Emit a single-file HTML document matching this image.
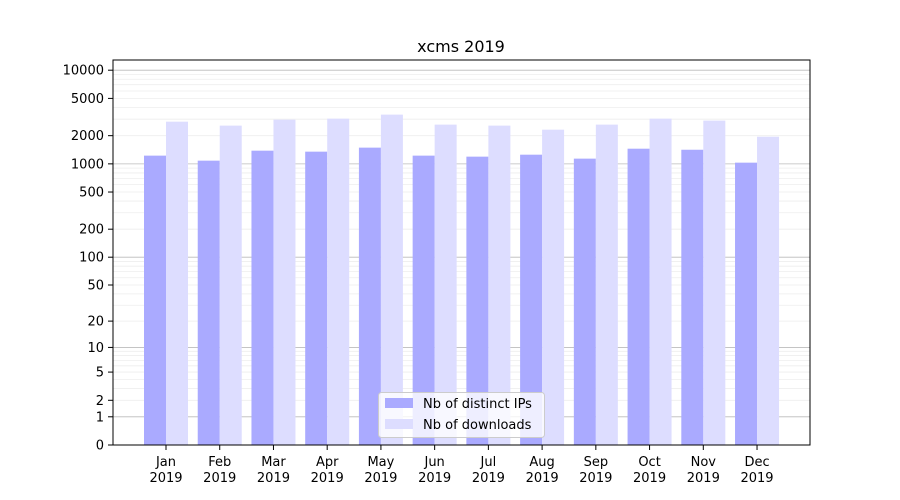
<!DOCTYPE html>
<html><head><meta charset="utf-8"><style>body{margin:0;background:#fff}svg{display:block}</style></head>
<body>
<svg width="900" height="500" xmlns="http://www.w3.org/2000/svg" font-family="DejaVu Sans, Liberation Sans, sans-serif">
<rect width="900" height="500" fill="#fff"/>
<g id="grid"></g>
<g id="bars"></g>
<rect x="113" y="60" width="697" height="385" fill="none" stroke="#000" stroke-width="1"/>
<g id="ticks" font-size="13" fill="#000"></g>
<text x="461" y="52" font-size="16" text-anchor="middle">xcms 2019</text>
<g>
<rect x="378.5" y="392.5" width="166" height="45" rx="3" fill="#fff" fill-opacity="0.8" stroke="#ccc"/>
<rect x="385" y="398" width="28" height="10" fill="#aaaaff"/>
<text x="423" y="408" font-size="13">Nb of distinct IPs</text>
<rect x="385" y="419" width="28" height="10" fill="#ddddff"/>
<text x="423" y="429" font-size="13">Nb of downloads</text>
</g>
<script>
const ns="http://www.w3.org/2000/svg";
const K=93.7,B=445;
const Y=v=>B-K*Math.log10(1+v);
function el(p,t,a,txt){const e=document.createElementNS(ns,t);for(const k in a)e.setAttribute(k,a[k]);if(txt!==undefined)e.textContent=txt;document.getElementById(p).appendChild(e);}
for(let d=1;d<=10000;d*=10){for(let m=1;m<10;m++){const v=d*m;if(v>12900)break;const y=Y(v);el('grid','line',{x1:113,x2:810,y1:y,y2:y,stroke:m==1?'#bbb':'#eee','stroke-width':0.8});}}
const lv=[0,1,2,5,10,20,50,100,200,500,1000,2000,5000,10000];
lv.forEach(v=>{const y=Y(v);el('ticks','line',{x1:108,x2:113,y1:y,y2:y,stroke:'#000'});el('ticks','text',{x:104,y:y+4.5,'text-anchor':'end'},String(v));});
const blue=[1224,1082,1383,1350,1490,1224,1194,1253,1137,1452,1415,1030];
const light=[2820,2560,2967,3040,3355,2623,2560,2318,2623,3040,2896,1950];
const mon=['Jan','Feb','Mar','Apr','May','Jun','Jul','Aug','Sep','Oct','Nov','Dec'];
for(let i=0;i<12;i++){const c=166+i*53.73;
el('bars','rect',{x:c-22,y:Y(blue[i]),width:22,height:B-Y(blue[i]),fill:'#aaaaff'});
el('bars','rect',{x:c,y:Y(light[i]),width:22,height:B-Y(light[i]),fill:'#ddddff'});
el('ticks','line',{x1:c,x2:c,y1:445,y2:450,stroke:'#000'});
el('ticks','text',{x:c,y:466,'text-anchor':'middle'},mon[i]);
el('ticks','text',{x:c,y:482,'text-anchor':'middle'},'2019');}
</script>
</svg>
</body></html>
